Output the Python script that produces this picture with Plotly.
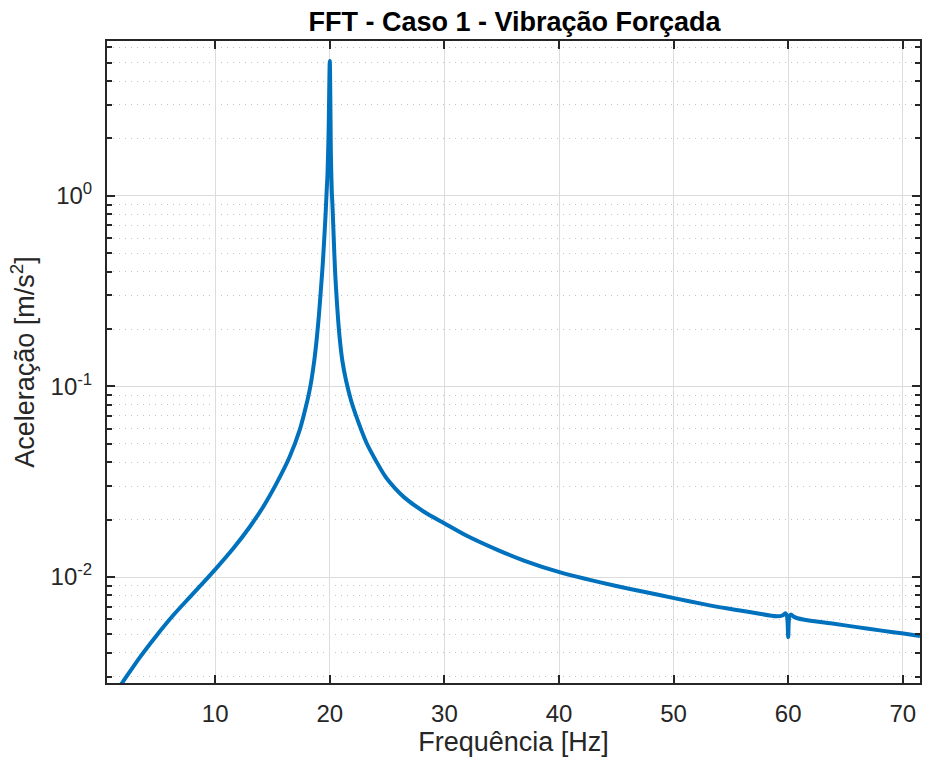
import plotly.graph_objects as go

# Spectrum of the forced-vibration response (Caso 1)
freq_hz = [1.3, 1.93, 3.44, 4.89, 6.34, 7.79, 9.24, 10.03, 11.57, 13.01, 14.18,
           15.34, 16.49, 17.37, 18.05, 18.24, 18.40, 18.65, 18.85, 19.05, 19.22,
           19.38, 19.51, 19.63, 19.73, 19.8, 19.9, 20.0, 20.1, 20.17, 20.24, 20.35,
           20.47, 20.61, 20.73, 20.88, 21.09, 21.41, 21.85, 22.43, 23.22, 24.0,
           24.87, 25.74, 26.52, 28.22, 30.02, 32.0, 34.72, 37.0, 40.04, 42.5, 44.9,
           47.5, 50.04, 52.5, 54.73, 57.0, 59.0, 59.5, 59.75, 59.9, 60.0, 60.1,
           60.25, 60.5, 61.3, 64.0, 66.0, 68.0, 70.06, 71.5]
accel = [0.00248, 0.00281, 0.00380, 0.00494, 0.00630, 0.00785, 0.00975, 0.0110,
         0.0141, 0.0183, 0.0233, 0.0309, 0.0426, 0.0589, 0.0846, 0.0955, 0.108,
         0.137, 0.175, 0.236, 0.320, 0.433, 0.585, 0.792, 1.07, 1.3, 2.2, 5.1,
         1.6, 1.07, 0.875, 0.585, 0.392, 0.283, 0.2226, 0.175, 0.137, 0.108,
         0.0846, 0.0665, 0.0503, 0.0410, 0.0335, 0.0290, 0.0261, 0.0220, 0.0191,
         0.0164, 0.0138, 0.01217, 0.0106, 0.00972, 0.0090, 0.00834, 0.00775,
         0.00723, 0.00683, 0.0065, 0.00622, 0.00628, 0.00645, 0.0062, 0.00484,
         0.0062, 0.00635, 0.00618, 0.00598, 0.00568, 0.00546, 0.00525, 0.00505,
         0.0049]

x_ticks = [10, 20, 30, 40, 50, 60, 70]
y_ticks = [1e-2, 1e-1, 1e0]
y_tick_text = ["10<sup>-2</sup>", "10<sup>-1</sup>", "10<sup>0</sup>"]
y_minor = [m * 10.0 ** e for e in (-3, -2, -1, 0) for m in range(2, 10)]

TXT = "#262626"
FONT = "Liberation Sans, Arial, sans-serif"

fig = go.Figure()
fig.add_trace(go.Scatter(
    x=freq_hz, y=accel, mode="lines",
    line=dict(color="#0072BD", width=4, shape="spline", smoothing=0.8),
    showlegend=False,
))

fig.update_layout(
    width=925, height=763,
    margin=dict(l=107, r=3, t=41, b=80),
    paper_bgcolor="white", plot_bgcolor="white",
    font=dict(family=FONT, size=24, color=TXT),
    title=dict(text="<b>FFT - Caso 1 - Vibração Forçada</b>",
               x=(107 + 922) / 2 / 925, xanchor="center",
               y=1 - 22 / 763, yanchor="middle",
               font=dict(family=FONT, size=27, color="#000000")),
)

fig.update_xaxes(
    range=[0.56, 71.5],
    tickvals=x_ticks, ticks="inside", ticklen=8, tickwidth=2, tickcolor=TXT,
    showline=True, linecolor=TXT, linewidth=2, mirror="allticks",
    showgrid=True, gridcolor="#dcdcdc", gridwidth=1,
    zeroline=False,
    tickfont=dict(size=24, color=TXT),
    ticklabelstandoff=8,
    title=dict(text="Frequência [Hz]", font=dict(size=27, color=TXT), standoff=4),
)

fig.update_yaxes(
    type="log", range=[-2.556, 0.812],
    tickvals=y_ticks, ticktext=y_tick_text,
    ticks="inside", ticklen=8, tickwidth=2, tickcolor=TXT,
    showline=True, linecolor=TXT, linewidth=2, mirror="allticks",
    showgrid=True, gridcolor="#dcdcdc", gridwidth=1,
    zeroline=False,
    tickfont=dict(size=24, color=TXT),
    ticklabelstandoff=8,
    minor=dict(tickvals=y_minor, ticks="inside", ticklen=5, tickwidth=2,
               tickcolor=TXT, showgrid=True, gridcolor="#c4c4c4",
               griddash="1px,5px", gridwidth=1),
    title=dict(text="Aceleração [m/s<sup>2</sup>]", font=dict(size=27, color=TXT),
               standoff=8),
)

fig.write_html("out.html")
